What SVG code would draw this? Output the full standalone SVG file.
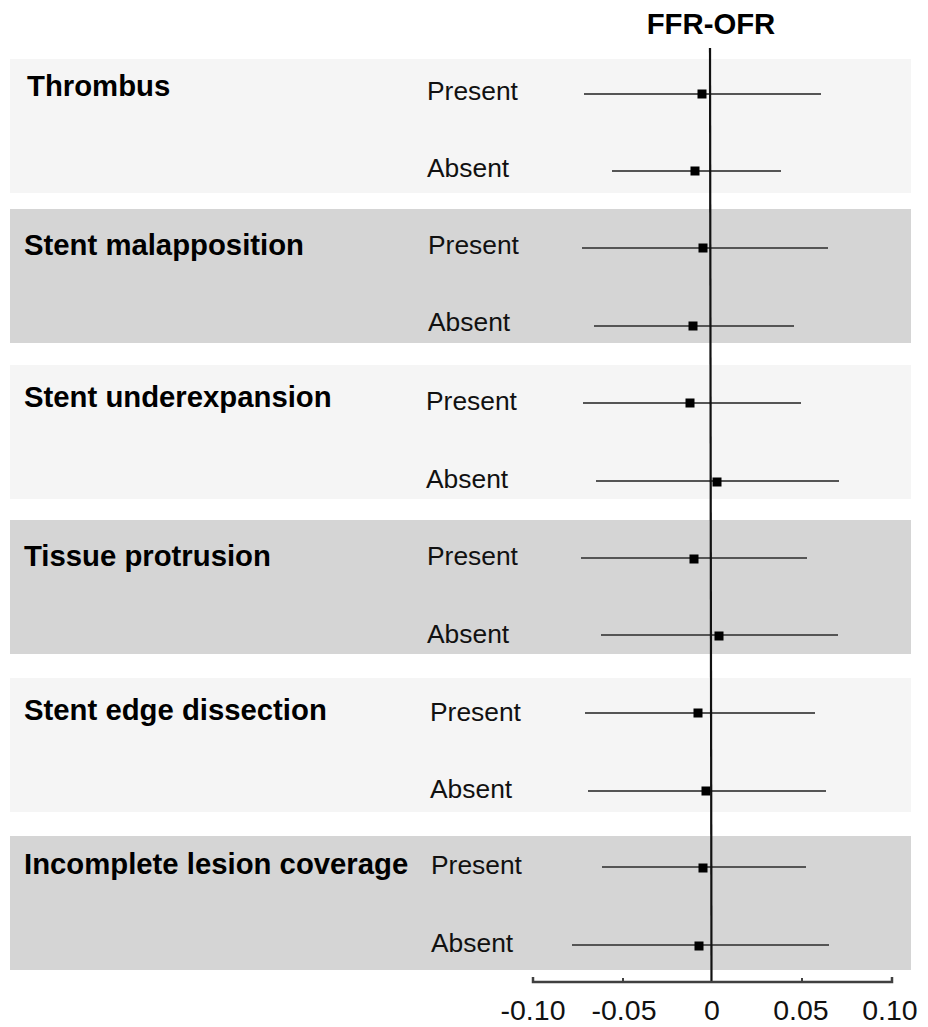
<svg xmlns="http://www.w3.org/2000/svg" width="928" height="1027" viewBox="0 0 928 1027">
<style>
.bl{fill:#f5f5f5}
.bd{fill:#d5d5d5}
.g{font-family:"Liberation Sans",Arial,sans-serif;font-weight:bold;font-size:29.3px;fill:#000}
.l{font-family:"Liberation Sans",Arial,sans-serif;font-size:26.4px;fill:#111}
.t{font-family:"Liberation Sans",Arial,sans-serif;font-size:28.5px;fill:#111;text-anchor:middle}
.ci{stroke:#555;stroke-width:2.2;fill:none}
.pt{fill:#000}
</style>
<rect width="928" height="1027" fill="#fff"/>
<g id="bands">
<rect class="bl" x="10" y="59" width="901" height="134"/>
<rect class="bd" x="10" y="209" width="901" height="134"/>
<rect class="bl" x="10" y="365" width="901" height="134"/>
<rect class="bd" x="10" y="520" width="901" height="134"/>
<rect class="bl" x="10" y="678" width="901" height="134"/>
<rect class="bd" x="10" y="836" width="901" height="134"/>
</g>
<text id="title" class="g" x="711" y="34" text-anchor="middle">FFR-OFR</text>
<g id="thrombus">
<text class="g" x="27" y="96">Thrombus</text>
<text class="l" x="427" y="100">Present</text>
<text class="l" x="427" y="177">Absent</text>
<line class="ci" x1="584" y1="94" x2="821" y2="94"/><rect class="pt" x="697.5" y="89.5" width="9" height="9"/>
<line class="ci" x1="612" y1="171" x2="781" y2="171"/><rect class="pt" x="690.5" y="166.5" width="9" height="9"/>
</g>
<g id="malapposition">
<text class="g" x="24" y="255">Stent malapposition</text>
<text class="l" x="428" y="254">Present</text>
<text class="l" x="428" y="331">Absent</text>
<line class="ci" x1="582" y1="248" x2="828" y2="248"/><rect class="pt" x="698.5" y="243.5" width="9" height="9"/>
<line class="ci" x1="594" y1="326" x2="794" y2="326"/><rect class="pt" x="688.5" y="321.5" width="9" height="9"/>
</g>
<g id="underexpansion">
<text class="g" x="24" y="407">Stent underexpansion</text>
<text class="l" x="426" y="410">Present</text>
<text class="l" x="426" y="488">Absent</text>
<line class="ci" x1="583" y1="403" x2="801" y2="403"/><rect class="pt" x="685.5" y="398.5" width="9" height="9"/>
<line class="ci" x1="596" y1="481" x2="839" y2="481"/><rect class="pt" x="712.5" y="477.5" width="9" height="9"/>
</g>
<g id="protrusion">
<text class="g" x="24" y="566">Tissue protrusion</text>
<text class="l" x="427" y="565">Present</text>
<text class="l" x="427" y="643">Absent</text>
<line class="ci" x1="581" y1="558" x2="807" y2="558"/><rect class="pt" x="689.5" y="554.5" width="9" height="9"/>
<line class="ci" x1="601" y1="635" x2="838" y2="635"/><rect class="pt" x="714.5" y="631.5" width="9" height="9"/>
</g>
<g id="dissection">
<text class="g" x="24" y="720">Stent edge dissection</text>
<text class="l" x="430" y="721">Present</text>
<text class="l" x="430" y="798">Absent</text>
<line class="ci" x1="585" y1="713" x2="815" y2="713"/><rect class="pt" x="693.5" y="708.5" width="9" height="9"/>
<line class="ci" x1="588" y1="791" x2="826" y2="791"/><rect class="pt" x="701.5" y="786.5" width="9" height="9"/>
</g>
<g id="coverage">
<text class="g" x="24" y="874">Incomplete lesion coverage</text>
<text class="l" x="431" y="874">Present</text>
<text class="l" x="431" y="952">Absent</text>
<line class="ci" x1="602" y1="867" x2="806" y2="867"/><rect class="pt" x="698.5" y="863.5" width="9" height="9"/>
<line class="ci" x1="572" y1="945" x2="829" y2="945"/><rect class="pt" x="694.5" y="941.5" width="9" height="9"/>
</g>
<g id="connectors">
<line x1="710" y1="48" x2="711.5" y2="982" stroke="#111" stroke-width="2.2"/>
<path d="M533,977 L533,982 L892,982 L892,977" fill="none" stroke="#404040" stroke-width="2.5"/>
<line x1="623" y1="978" x2="623" y2="982" stroke="#404040" stroke-width="2"/>
<line x1="802" y1="978" x2="802" y2="982" stroke="#404040" stroke-width="2"/>
</g>
<g id="axis-labels">
<text class="t" x="533" y="1020">-0.10</text>
<text class="t" x="624" y="1020">-0.05</text>
<text class="t" x="712" y="1020">0</text>
<text class="t" x="801" y="1020">0.05</text>
<text class="t" x="890" y="1020">0.10</text>
</g>
</svg>
